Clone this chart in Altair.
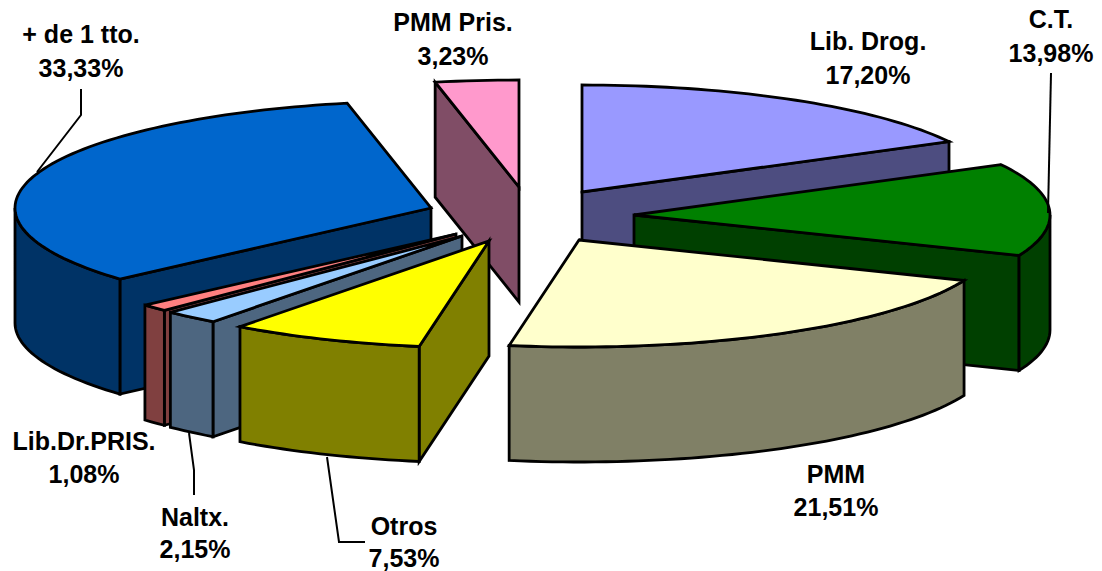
import math
import altair as alt
import pandas as pd

# Chart values, in clockwise order from twelve o'clock
names = ["Lib. Drog.", "C.T.", "PMM", "Otros", "Naltx.", "Lib.Dr.PRIS.", "+ de 1 tto.", "PMM Pris."]
shares = [17.20, 13.98, 21.51, 7.53, 2.15, 1.08, 33.33, 3.23]

# Styles
top_colors = ["#9999FF", "#008000", "#FFFFCC", "#FFFF00", "#99CCFF", "#FF8080", "#0066CC", "#FF99CC"]
side_colors = ["#4D4D80", "#004000", "#808066", "#808000", "#4D6680", "#804040", "#003366", "#804D66"]

# Layout of the exploded pie (image pixels)
RX, RY, DEPTH = 416, 107, 115
apex_x = [582, 634, 579, 489, 462, 456, 431, 519]
apex_y = [192, 215, 240, 241, 236, 234, 208, 187]
paint_order = [7, 0, 6, 5, 4, 3, 1, 2]

label_x = [868, 1051, 836, 404, 195, 84, 81, 453]
label_y = [[50, 84], [28, 62], [483, 516], [535, 567], [526, 558], [450, 483], [43, 77], [31, 65]]

leaders = {
    "+ de 1 tto.": [(81, 89), (81, 115), (37, 172)],
    "C.T.": [(1051, 73), (1048, 213)],
    "Naltx.": [(189, 433), (194, 470), (194, 495)],
    "Otros": [(327, 457), (339, 542), (365, 542)],
}

total = sum(shares)
rows = []
poly_id = 0


def add_poly(points, color):
    global poly_id
    poly_id += 1
    closed = points + [points[0], points[1]]
    for k, (x, y) in enumerate(closed):
        rows.append({"poly": f"p{poly_id:03d}", "i": k, "x": x, "y": y, "color": color})


def rim(cx, cy, deg):
    t = math.radians(deg)
    return (cx + RX * math.sin(t), cy - RY * math.cos(t))


def arc(cx, cy, a, b):
    n = max(2, int(abs(b - a) / 1.5) + 2)
    return [rim(cx, cy, a + (b - a) * j / (n - 1)) for j in range(n)]


def drop(points):
    return [(x, y + DEPTH) for x, y in points]


starts = []
acc = 0.0
for s in shares:
    starts.append(acc)
    acc += s * 360.0 / total

for idx in paint_order:
    a = starts[idx]
    b = a + shares[idx] * 360.0 / total
    cx, cy = apex_x[idx], apex_y[idx]
    side = side_colors[idx]
    if math.sin(math.radians(a)) < 0:
        p = [(cx, cy), rim(cx, cy, a)]
        add_poly(p + drop(p)[::-1], side)
    if math.sin(math.radians(b)) > 0:
        p = [(cx, cy), rim(cx, cy, b)]
        add_poly(p + drop(p)[::-1], side)
    lo, hi = max(a, 90), min(b, 270)
    if lo < hi:
        p = arc(cx, cy, lo, hi)
        add_poly(p + drop(p)[::-1], side)
    add_poly([(cx, cy)] + arc(cx, cy, a, b), top_colors[idx])

faces = pd.DataFrame(rows)

text_rows = []
for n, s, lx, ly in zip(names, shares, label_x, label_y):
    text_rows.append({"t": n, "x": lx, "y": ly[0]})
    text_rows.append({"t": f"{s:.2f}%".replace(".", ","), "x": lx, "y": ly[1]})
texts = pd.DataFrame(text_rows)

line_rows = []
for n, pts in leaders.items():
    for k, (x, y) in enumerate(pts):
        line_rows.append({"name": n, "i": k, "x": x, "y": y})
lines = pd.DataFrame(line_rows)

X = alt.X("x:Q", scale=alt.Scale(domain=[8, 1094], nice=False, zero=False), axis=None)
Y = alt.Y("y:Q", scale=alt.Scale(domain=[571, 8], nice=False, zero=False), axis=None)

pie = alt.Chart(faces).mark_line(filled=True, stroke="black", strokeWidth=2.8, strokeJoin="miter").encode(
    x=X, y=Y, detail="poly:N", order="i:Q", fill=alt.Fill("color:N", scale=None)
)
lead = alt.Chart(lines).mark_line(color="black", strokeWidth=2).encode(
    x=X, y=Y, detail="name:N", order="i:Q"
)
labels = alt.Chart(texts).mark_text(
    font="Liberation Sans", fontWeight="bold", fontSize=25, align="center", baseline="alphabetic", color="#000000"
).encode(x=X, y=Y, text="t:N")

chart = (
    alt.layer(pie, lead, labels)
    .properties(width=1086, height=563, padding=0, autosize=alt.AutoSizeParams(type="none"), background="white")
    .configure_view(stroke=None)
)
chart.save("out.html", embed_options={"renderer": "svg", "actions": False})
